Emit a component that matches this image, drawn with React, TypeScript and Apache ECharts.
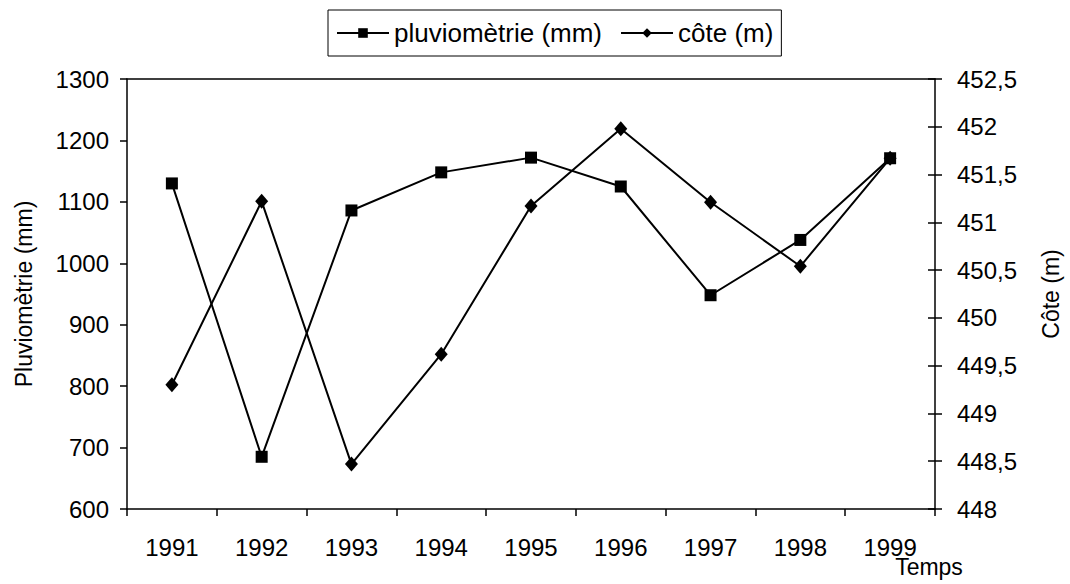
import React, { useEffect, useRef } from "react";
import * as echarts from "echarts";

const years = ["1991", "1992", "1993", "1994", "1995", "1996", "1997", "1998", "1999"];
const pluviometrie = [1130, 685, 1086, 1148, 1172, 1125, 948, 1038, 1171];
const cote = [449.3, 451.22, 448.47, 449.62, 451.17, 451.98, 451.21, 450.54, 451.67];

const seriesNames = ["pluviomètrie (mm)", "côte (m)"];
const leftAxisName = "Pluviomètrie (mm)";
const rightAxisName = "Côte (m)";
const xAxisTitle = "Temps";

const FONT = "'Liberation Sans', Arial, sans-serif";

export default function App() {
  const ref = useRef<HTMLDivElement>(null);
  useEffect(() => {
    if (!ref.current) return;
    const chart = echarts.init(ref.current, undefined, { renderer: "svg" });
    const axisLine = { show: true, lineStyle: { color: "#000", width: 1.5 } };
    const labelStyle = { color: "#000", fontSize: 24, fontFamily: FONT };
    chart.setOption({
      animation: false,
      backgroundColor: "#fff",
      textStyle: { fontFamily: FONT },
      grid: { left: 127, right: 125, top: 79, bottom: 75, containLabel: false },
      legend: {
        left: 328,
        top: 10,
        padding: [10, 8, 10, 8],
        borderColor: "#000",
        borderWidth: 1,
        itemWidth: 52,
        itemHeight: 12,
        itemGap: 18,
        textStyle: { color: "#000", fontSize: 26, fontFamily: FONT },
        data: seriesNames,
      },
      xAxis: [
        {
          type: "category",
          data: years,
          position: "bottom",
          axisLine,
          axisTick: { show: true, inside: false, length: 7, lineStyle: { color: "#000", width: 1.5 } },
          axisLabel: { ...labelStyle, margin: 26 },
        },
        {
          type: "category",
          data: years,
          position: "top",
          axisLine,
          axisTick: { show: false },
          axisLabel: { show: false },
        },
      ],
      yAxis: [
        {
          type: "value",
          min: 600,
          max: 1300,
          interval: 100,
          position: "left",
          name: leftAxisName,
          nameLocation: "middle",
          nameRotate: 90,
          nameGap: 92,
          nameTextStyle: { color: "#000", fontSize: 23, fontFamily: FONT },
          axisLine,
          axisTick: { show: true, inside: false, length: 7, lineStyle: { color: "#000", width: 1.5 } },
          axisLabel: { ...labelStyle, margin: 18, formatter: (v: number) => String(v) },
          splitLine: { show: false },
        },
        {
          type: "value",
          min: 448,
          max: 452.5,
          interval: 0.5,
          position: "right",
          name: rightAxisName,
          nameLocation: "middle",
          nameRotate: 90,
          nameGap: 104,
          nameTextStyle: { color: "#000", fontSize: 23, fontFamily: FONT },
          axisLine,
          axisTick: { show: true, inside: false, length: 7, lineStyle: { color: "#000", width: 1.5 } },
          axisLabel: {
            ...labelStyle,
            margin: 22,
            formatter: (v: number) => String(v).replace(".", ","),
          },
          splitLine: { show: false },
        },
        {
          type: "value",
          min: 448,
          max: 452.5,
          interval: 0.5,
          position: "right",
          axisLine: { show: false },
          axisTick: { show: true, inside: true, length: 7, lineStyle: { color: "#000", width: 1.5 } },
          axisLabel: { show: false },
          splitLine: { show: false },
        },
      ],
      series: [
        {
          name: seriesNames[0],
          type: "line",
          yAxisIndex: 0,
          data: pluviometrie,
          symbol: "rect",
          symbolSize: 12,
          lineStyle: { color: "#000", width: 2 },
          itemStyle: { color: "#000" },
        },
        {
          name: seriesNames[1],
          type: "line",
          yAxisIndex: 1,
          data: cote,
          symbol: "diamond",
          symbolSize: [13, 15],
          lineStyle: { color: "#000", width: 2 },
          itemStyle: { color: "#000" },
        },
      ],
      graphic: [
        {
          type: "text",
          x: 929,
          y: 567,
          style: {
            text: xAxisTitle,
            fill: "#000",
            fontSize: 23,
            fontFamily: FONT,
            align: "center",
            verticalAlign: "middle",
          },
        },
      ],
    });
    return () => chart.dispose();
  }, []);
  return (
    <div
      ref={ref}
      style={{ position: "fixed", left: 0, top: 0, width: 1070, height: 584 }}
    />
  );
}
